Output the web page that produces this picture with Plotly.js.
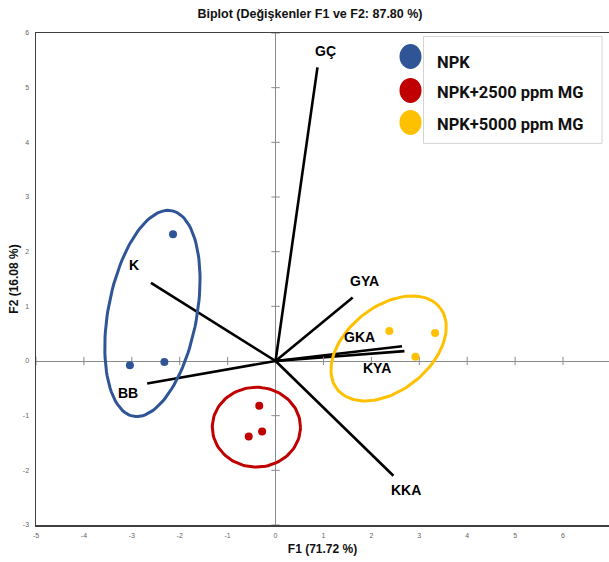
<!DOCTYPE html>
<html>
<head>
<meta charset="utf-8">
<script src="https://cdn.plot.ly/plotly-3.0.1.min.js"></script>
<style>html,body{margin:0;padding:0;background:#fff;}#chart{width:609px;height:562px;}</style>
</head>
<body>
<div id="chart"></div>
<script>
// ---- data ----
const groups = ['NPK', 'NPK+2500 ppm MG', 'NPK+5000 ppm MG'];
const npkX = [-2.14, -3.04, -2.32];
const npkY = [2.32, -0.08, -0.02];
const mg2500X = [-0.34, -0.28, -0.56];
const mg2500Y = [-0.82, -1.29, -1.38];
const mg5000X = [2.375, 3.33, 2.92];
const mg5000Y = [0.55, 0.51, 0.08];

const varNames = ['GÇ', 'K', 'BB', 'GYA', 'GKA', 'KYA', 'KKA'];
const varX = [0.875, -2.6, -2.68, 1.61, 2.64, 2.69, 2.46];
const varY = [5.37, 1.43, -0.41, 1.16, 0.27, 0.18, -2.10];

const xTicks = [-5, -4, -3, -2, -1, 0, 1, 2, 3, 4, 5, 6];
const yTicks = [-3, -2, -1, 0, 1, 2, 3, 4, 5, 6];

// ---- styling / geometry ----
const colors = ['#2F5597', '#C00000', '#FFC000'];
// ellipse: center, two conjugate semi-axis vectors (data units)
const ellipses = [
  {c: [-2.57, 0.87], u: [0.40, 1.88], v: [0.91, -0.15]},
  {c: [-0.40, -1.21], u: [0.92, 0], v: [0, 0.73]},
  {c: [2.36, 0.23], u: [1.07, 0.75], v: [0.55, -0.60]}
];
const labelShift = [[8, 16], [-17, 18], [-19, -10], [12, 17], [-43, 9], [-27, -17], [13, -14]];

const traces = [];
const ptsX = [npkX, mg2500X, mg5000X];
const ptsY = [npkY, mg2500Y, mg5000Y];

// vectors
varNames.forEach((n, i) => {
  traces.push({x: [0, varX[i]], y: [0, varY[i]], mode: 'lines', line: {color: '#000', width: 2.6},
    showlegend: false, hoverinfo: 'skip'});
});

// ticks on zero lines
const tickGray = '#8a8a8a';
traces.push({x: xTicks.filter(t => t !== 0), y: xTicks.filter(t => t !== 0).map(() => 0), mode: 'markers',
  marker: {symbol: 'line-ns-open', size: 6, color: tickGray, line: {color: tickGray, width: 1}}, showlegend: false, hoverinfo: 'skip'});
traces.push({x: yTicks.filter(t => t !== 0).map(() => 0), y: yTicks.filter(t => t !== 0), mode: 'markers',
  marker: {symbol: 'line-ew-open', size: 6, color: tickGray, line: {color: tickGray, width: 1}}, showlegend: false, hoverinfo: 'skip'});

// ellipses
ellipses.forEach((e, g) => {
  const ex = [], ey = [];
  for (let k = 0; k <= 120; k++) {
    const t = 2 * Math.PI * k / 120;
    ex.push(e.c[0] + e.u[0] * Math.cos(t) + e.v[0] * Math.sin(t));
    ey.push(e.c[1] + e.u[1] * Math.cos(t) + e.v[1] * Math.sin(t));
  }
  traces.push({x: ex, y: ey, mode: 'lines', line: {color: colors[g], width: 3}, showlegend: false, hoverinfo: 'skip'});
});

// points
groups.forEach((g, i) => {
  traces.push({x: ptsX[i], y: ptsY[i], mode: 'markers', name: g,
    marker: {color: colors[i], size: 8}, showlegend: false});
});

// pixel -> paper helpers (plot area: x 36..609, y 32.5..525)
const L = 36, R = 609, T = 32.5, B = 525;
const px = v => (v - L) / (R - L);
const py = v => (B - v) / (B - T);

const annotations = varNames.map((n, i) => ({
  x: varX[i], y: varY[i], xref: 'x', yref: 'y', text: n, showarrow: false,
  xshift: labelShift[i][0], yshift: labelShift[i][1],
  font: {family: 'Liberation Sans, Arial, sans-serif', size: 14, color: '#000', weight: 'bold'}
}));

const shapes = [
  {type: 'rect', xref: 'paper', yref: 'paper', x0: px(423.5), x1: px(602), y0: py(36), y1: py(143),
    line: {color: '#d4d4d4', width: 1}, fillcolor: '#fff', layer: 'above'}
];
const legY = [56, 90, 122];
groups.forEach((g, i) => {
  shapes.push({type: 'circle', xref: 'paper', yref: 'paper', x0: px(399.5), x1: px(421.5),
    y0: py(legY[i] - 12.5), y1: py(legY[i] + 12.5), fillcolor: colors[i], line: {width: 0}, layer: 'above'});
  annotations.push({xref: 'paper', yref: 'paper', x: px(435), y: py(legY[i] + (i === 0 ? 6 : 2)), xanchor: 'left', yanchor: 'middle',
    text: g, showarrow: false, font: {family: 'Roboto, sans-serif', size: 16.5, color: '#111', weight: 'bold'}});
});

const layout = {
  width: 609, height: 562,
  margin: {l: L, r: 0, t: 32.5, b: 37},
  paper_bgcolor: '#fff', plot_bgcolor: '#fff',
  title: {text: 'Biplot (Değişkenler F1 ve F2: 87.80 %)', x: 310 / 609, xref: 'container', xanchor: 'center',
    y: 1 - 14 / 562, yref: 'container', yanchor: 'middle',
    font: {family: 'Liberation Sans, Arial, sans-serif', size: 12.5, color: '#111', weight: 'bold'}},
  xaxis: {range: [-5, 6.96], tickvals: xTicks, ticktext: xTicks.map(String), showgrid: false,
    zeroline: true, zerolinecolor: tickGray, zerolinewidth: 1,
    showline: true, linecolor: '#404040', linewidth: 1.5, mirror: true,
    ticks: 'outside', ticklen: 3, tickcolor: 'rgba(0,0,0,0)',
    tickfont: {family: 'Liberation Sans, Arial, sans-serif', size: 7, color: '#666'},
    title: {text: 'F1 (71.72 %)', standoff: 6, font: {family: 'Liberation Sans, Arial, sans-serif', size: 12, color: '#111', weight: 'bold'}},
    fixedrange: true},
  yaxis: {range: [-3, 6], tickvals: yTicks, ticktext: yTicks.map(String), showgrid: false,
    zeroline: true, zerolinecolor: tickGray, zerolinewidth: 1,
    showline: true, linecolor: '#404040', linewidth: 1.5, mirror: false,
    ticks: 'outside', ticklen: 4, tickcolor: 'rgba(0,0,0,0)',
    tickfont: {family: 'Liberation Sans, Arial, sans-serif', size: 7, color: '#666'},
    title: {text: 'F2 (16.08 %)', standoff: 1, font: {family: 'Liberation Sans, Arial, sans-serif', size: 12, color: '#111', weight: 'bold'}},
    fixedrange: true},
  annotations: annotations,
  shapes: shapes,
  showlegend: false
};

Plotly.newPlot('chart', traces, layout, {displayModeBar: false, staticPlot: true});
</script>
</body>
</html>
